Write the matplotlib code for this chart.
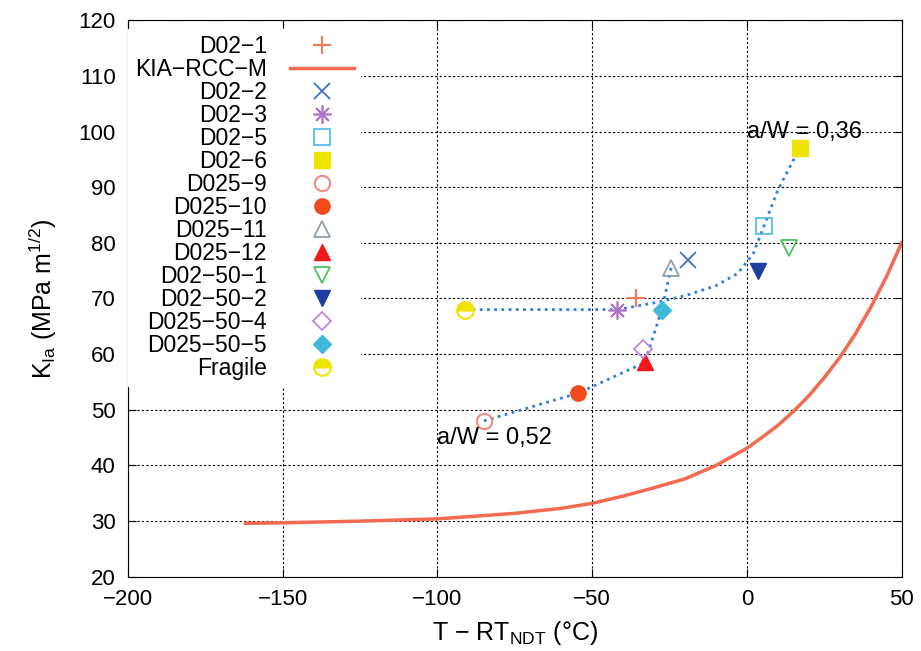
import numpy as np
import matplotlib
matplotlib.use("Agg")
import matplotlib.pyplot as plt

plt.rcParams['font.family'] = ['Liberation Sans', 'DejaVu Sans']
plt.rcParams['mathtext.fontset'] = 'custom'
plt.rcParams['mathtext.rm'] = 'Liberation Sans'
plt.rcParams['mathtext.it'] = 'Liberation Sans:italic'

# measured points (T - RTndt, KIa)
series_names = ["D02−1", "D02−2", "D02−3", "D02−5", "D02−6", "D025−9", "D025−10",
                "D025−11", "D025−12", "D02−50−1", "D02−50−2", "D025−50−4",
                "D025−50−5", "Fragile"]
series_x = [-36, -19, -42, 5.5, 17, -85, -54.5, -24.5, -33, 13.5, 3.5, -33.5, -27.5, -91]
series_y = [70, 77, 68, 83, 97, 48, 53, 75.5, 58.5, 79, 75, 61, 68, 68]

# KIA-RCC-M reference curve
rcc_x = [-162, -150, -125, -100, -75, -60, -50, -40, -30, -20, -10, 0, 5, 10, 15,
         20, 25, 30, 35, 40, 45, 50]
rcc_y = [29.6, 29.7, 30.0, 30.4, 31.4, 32.3, 33.2, 34.5, 36.0, 37.6, 40.0, 43.1, 45.1,
         47.2, 49.7, 52.5, 55.8, 59.4, 63.6, 68.4, 73.8, 80.0]

# blue dotted trend lines
trend1_x = [-91, -42, -30, -20, -10, -3, 2, 5.5, 10, 17]
trend1_y = [68, 68, 69.2, 70.5, 72.3, 74.5, 78, 83, 89.5, 97]
trend2_x = [-85, -54.5, -33, -27.5, -24.5]
trend2_y = [48, 53, 58.5, 68, 75.5]

styles = [
    dict(marker='+', color='#f47a55', ms=13, mew=1.5),
    dict(marker='x', color='#3f6fc6', ms=11, mew=1.3),
    dict(marker=(8, 2, 0), color='#b070c8', ms=13, mew=1.2),
    dict(marker='s', mfc='none', mec='#4db8e8', ms=11, mew=1.2),
    dict(marker='s', color='#eee400', ms=11),
    dict(marker='o', mfc='none', mec='#f58a80', ms=11, mew=1.5),
    dict(marker='o', color='#f04a1e', ms=11),
    dict(marker='^', mfc='none', mec='#8fa0a8', ms=11, mew=1.3),
    dict(marker='^', color='#f01818', ms=11),
    dict(marker='v', mfc='none', mec='#50c060', ms=11, mew=1.3),
    dict(marker='v', color='#1f3fa0', ms=11),
    dict(marker='D', mfc='none', mec='#c088d8', ms=9, mew=1.3),
    dict(marker='D', color='#40b8d8', ms=9),
    dict(marker='o', mfc='#eee400', mfcalt='white', fillstyle='top', mec='#eee400', ms=12, mew=1.5),
]

fig, ax = plt.subplots(figsize=(9.21, 6.51), dpi=100)
fig.subplots_adjust(left=0.139, right=0.979, bottom=0.114, top=0.969)

ax.plot(trend1_x, trend1_y, color='#2f7fe0', lw=2, ls=(0, (1, 1.6)), zorder=3)
ax.plot(trend2_x, trend2_y, color='#2f7fe0', lw=2, ls=(0, (1, 1.6)), zorder=3)

handles = []
for i, name in enumerate(series_names):
    st = dict(styles[i])
    if 'mfcalt' in st:
        st['markerfacecoloralt'] = st.pop('mfcalt')
    h, = ax.plot([series_x[i]], [series_y[i]], ls='none', label=name, zorder=4, **st)
    handles.append(h)

rcc, = ax.plot(rcc_x, rcc_y, color='#f26a4f', lw=2.5, label="KIA−RCC−M", zorder=2)
handles.insert(1, rcc)

ax.text(0, 100, "a/W = 0,36", fontsize=17, va='center', ha='left', zorder=5)
ax.text(-100, 45, "a/W = 0,52", fontsize=17, va='center', ha='left', zorder=5)

ax.set_xlim(-200, 50)
ax.set_ylim(20, 120)
ax.set_xticks(np.arange(-200, 51, 50))
ax.set_yticks(np.arange(20, 121, 10))
ax.tick_params(direction='in', top=True, right=True, labelsize=16, length=6, pad=9)
ax.grid(True, color='black', ls=(0, (2, 2)), lw=0.8)
ax.set_axisbelow(True)

ax.set_xlabel(r"T − RT$\mathregular{_{NDT}}$ (°C)", fontsize=18, labelpad=6)
ax.set_ylabel(r"K$\mathregular{_{Ia}}$ (MPa m$\mathregular{^{1/2}}$)", fontsize=18, labelpad=14)

leg = ax.legend(handles=handles, loc='upper left', bbox_to_anchor=(0.0, 0.985),
                markerfirst=False, fontsize=16.5, labelspacing=0.0, handletextpad=1.0,
                handlelength=2.8, borderaxespad=0, borderpad=0.3,
                fancybox=False, frameon=True)
leg.get_frame().set_facecolor('white')
leg.get_frame().set_edgecolor('none')
leg.get_frame().set_alpha(1)

fig.savefig("out.png", dpi=100)
